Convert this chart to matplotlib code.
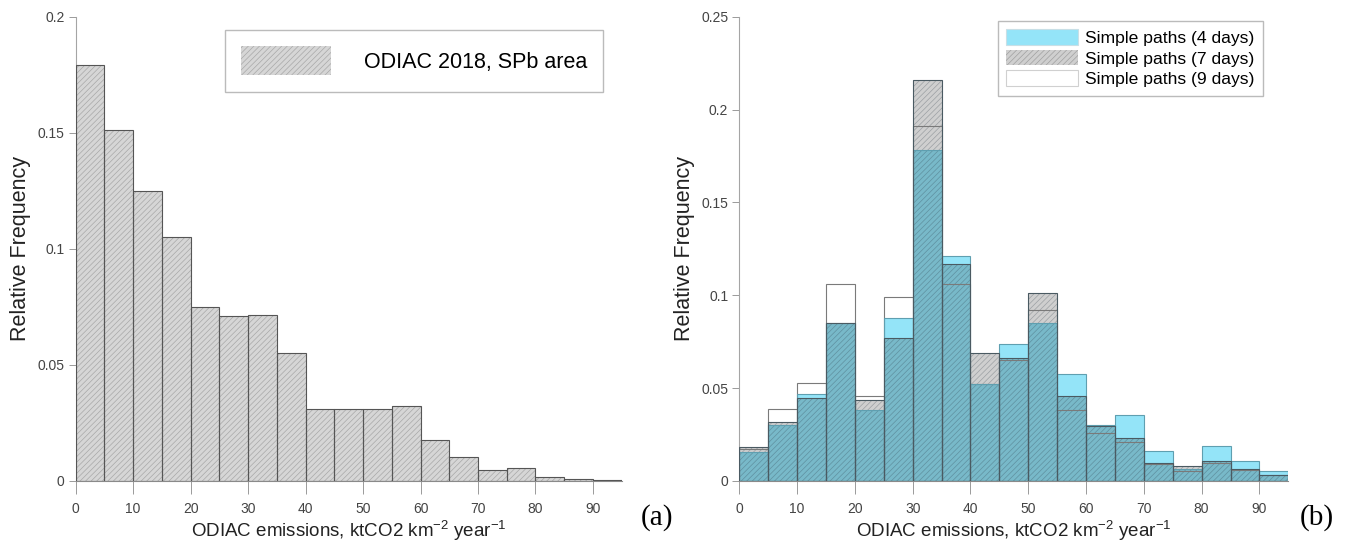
import matplotlib
matplotlib.use('Agg')
import matplotlib.pyplot as plt
from matplotlib.patches import Patch

plt.rcParams['font.family'] = ['Liberation Sans', 'DejaVu Sans']
plt.rcParams['mathtext.default'] = 'regular'
plt.rcParams['hatch.linewidth'] = 0.5

# bins (left edges, ktCO2 km-2 year-1), width 5
bin_left = [0, 5, 10, 15, 20, 25, 30, 35, 40, 45, 50, 55, 60, 65, 70, 75, 80, 85, 90]
bin_width = 5

# (a) ODIAC 2018, SPb area
odiac = [0.179, 0.151, 0.125, 0.105, 0.0748, 0.0711, 0.0715, 0.055, 0.031, 0.0312,
         0.0312, 0.0325, 0.0175, 0.0105, 0.0048, 0.0054, 0.0018, 0.0007, 0.0004]

# (b) simple paths
paths_4d = [0.0155, 0.030, 0.047, 0.085, 0.038, 0.088, 0.178, 0.121, 0.052, 0.074,
            0.085, 0.0577, 0.030, 0.0356, 0.016, 0.0065, 0.019, 0.011, 0.0054]
paths_7d = [0.0185, 0.032, 0.0446, 0.085, 0.0435, 0.077, 0.216, 0.117, 0.069, 0.066,
            0.101, 0.046, 0.0295, 0.0234, 0.0095, 0.008, 0.011, 0.0065, 0.0033]
paths_9d = [0.017, 0.039, 0.0525, 0.106, 0.0455, 0.099, 0.191, 0.106, 0.052, 0.065,
            0.092, 0.038, 0.026, 0.021, 0.009, 0.0055, 0.0095, 0.006, 0.003]

xticks = [0, 10, 20, 30, 40, 50, 60, 70, 80, 90]
xlabel = 'ODIAC emissions, ktCO2 km$^{-2}$ year$^{-1}$'
ylabel = 'Relative Frequency'

W, H = 1349, 549
fig = plt.figure(figsize=(W / 100, H / 100), dpi=100)

def px_axes(x0, x1, y_top, y_bot):
    return fig.add_axes([x0 / W, (H - y_bot) / H, (x1 - x0) / W, (y_bot - y_top) / H])

def style(ax, ymax, yticks, yticklabels):
    ax.set_xlim(0, 95)
    ax.set_ylim(0, ymax)
    for s in ['top', 'right']:
        ax.spines[s].set_visible(False)
    ax.spines['left'].set_color('#a5a5a5')
    ax.spines['bottom'].set_color('#8a8a8a')
    ax.spines['left'].set_linewidth(0.8)
    ax.spines['bottom'].set_linewidth(0.8)
    ax.set_xticks(xticks)
    ax.set_yticks(yticks)
    ax.set_yticklabels(yticklabels)
    ax.tick_params(axis='x', length=9, width=0.7, color='#9a9a9a', labelsize=10,
                   labelcolor='#444444', pad=6)
    ax.tick_params(axis='y', length=5, width=0.7, color='#9a9a9a', labelsize=10,
                   labelcolor='#444444', pad=3)
    ax.set_xlabel(xlabel, fontsize=13.5, color='#222222', labelpad=2)
    ax.set_ylabel(ylabel, fontsize=15.5, color='#222222', labelpad=4.5)

# ---- (a)
ax1 = px_axes(75.7, 621.7, 16.7, 481)
ax1.bar(bin_left, odiac, width=bin_width, align='edge', facecolor='#d6d6d6',
        edgecolor='#a8a8a8', linewidth=0, hatch='//////', zorder=2)
ax1.bar(bin_left, odiac, width=bin_width, align='edge', fill=False,
        edgecolor='#555555', linewidth=0.8, zorder=3)
style(ax1, 0.2, [0, 0.05, 0.1, 0.15, 0.2], ['0', '0.05', '0.1', '0.15', '0.2'])
h1 = Patch(facecolor='#d6d6d6', edgecolor='#a8a8a8', hatch='//////', linewidth=0)
ax1.legend([h1], ['ODIAC 2018, SPb area'], loc='upper right', bbox_to_anchor=(0.966, 0.971),
           fontsize=15.5, handlelength=4.2, handleheight=1.7, handletextpad=1.5,
           borderpad=0.75, fancybox=False, framealpha=1, edgecolor='#bbbbbb', borderaxespad=0)

# ---- (b)
ax2 = px_axes(739.3, 1288.3, 16.7, 481)
cyan = '#94e4f8'
ax2.bar(bin_left, paths_4d, width=bin_width, align='edge', color=cyan,
        linewidth=0, zorder=2)
ax2.bar(bin_left, paths_7d, width=bin_width, align='edge', facecolor=(0, 0, 0, 0.19),
        edgecolor=(0.15, 0.2, 0.25, 0.3), linewidth=0, hatch='//////', zorder=3)
ax2.bar(bin_left, paths_9d, width=bin_width, align='edge', fill=False,
        edgecolor='#7a7a7a', linewidth=0.8, zorder=4)
ax2.bar(bin_left, paths_4d, width=bin_width, align='edge', fill=False,
        edgecolor='#5f9fb0', linewidth=0.8, zorder=4)
ax2.bar(bin_left, paths_7d, width=bin_width, align='edge', fill=False,
        edgecolor='#4a5a62', linewidth=0.8, zorder=4)
style(ax2, 0.25, [0, 0.05, 0.1, 0.15, 0.2, 0.25], ['0', '0.05', '0.1', '0.15', '0.2', '0.25'])
handles = [Patch(facecolor=cyan, edgecolor='#c8dfe6', linewidth=0.8),
           Patch(facecolor='#cfcfcf', edgecolor='#a0a0a0', hatch='//////', linewidth=0),
           Patch(facecolor='white', edgecolor='#d0d0d0', linewidth=0.8)]
labels = ['Simple paths (4 days)', 'Simple paths (7 days)', 'Simple paths (9 days)']
ax2.legend(handles, labels, loc='upper right', bbox_to_anchor=(0.9545, 0.9914),
           fontsize=12.6, handlelength=4.1, handleheight=1.0, handletextpad=0.4,
           labelspacing=0.2, borderpad=0.5, fancybox=False, framealpha=1,
           edgecolor='#bbbbbb', borderaxespad=0)

fig.text(657 / W, 1 - 518 / H, '(a)', family='Liberation Serif', fontsize=21, ha='center', va='center')
fig.text(1317 / W, 1 - 518 / H, '(b)', family='Liberation Serif', fontsize=21, ha='center', va='center')

fig.savefig('out.png', dpi=100)
